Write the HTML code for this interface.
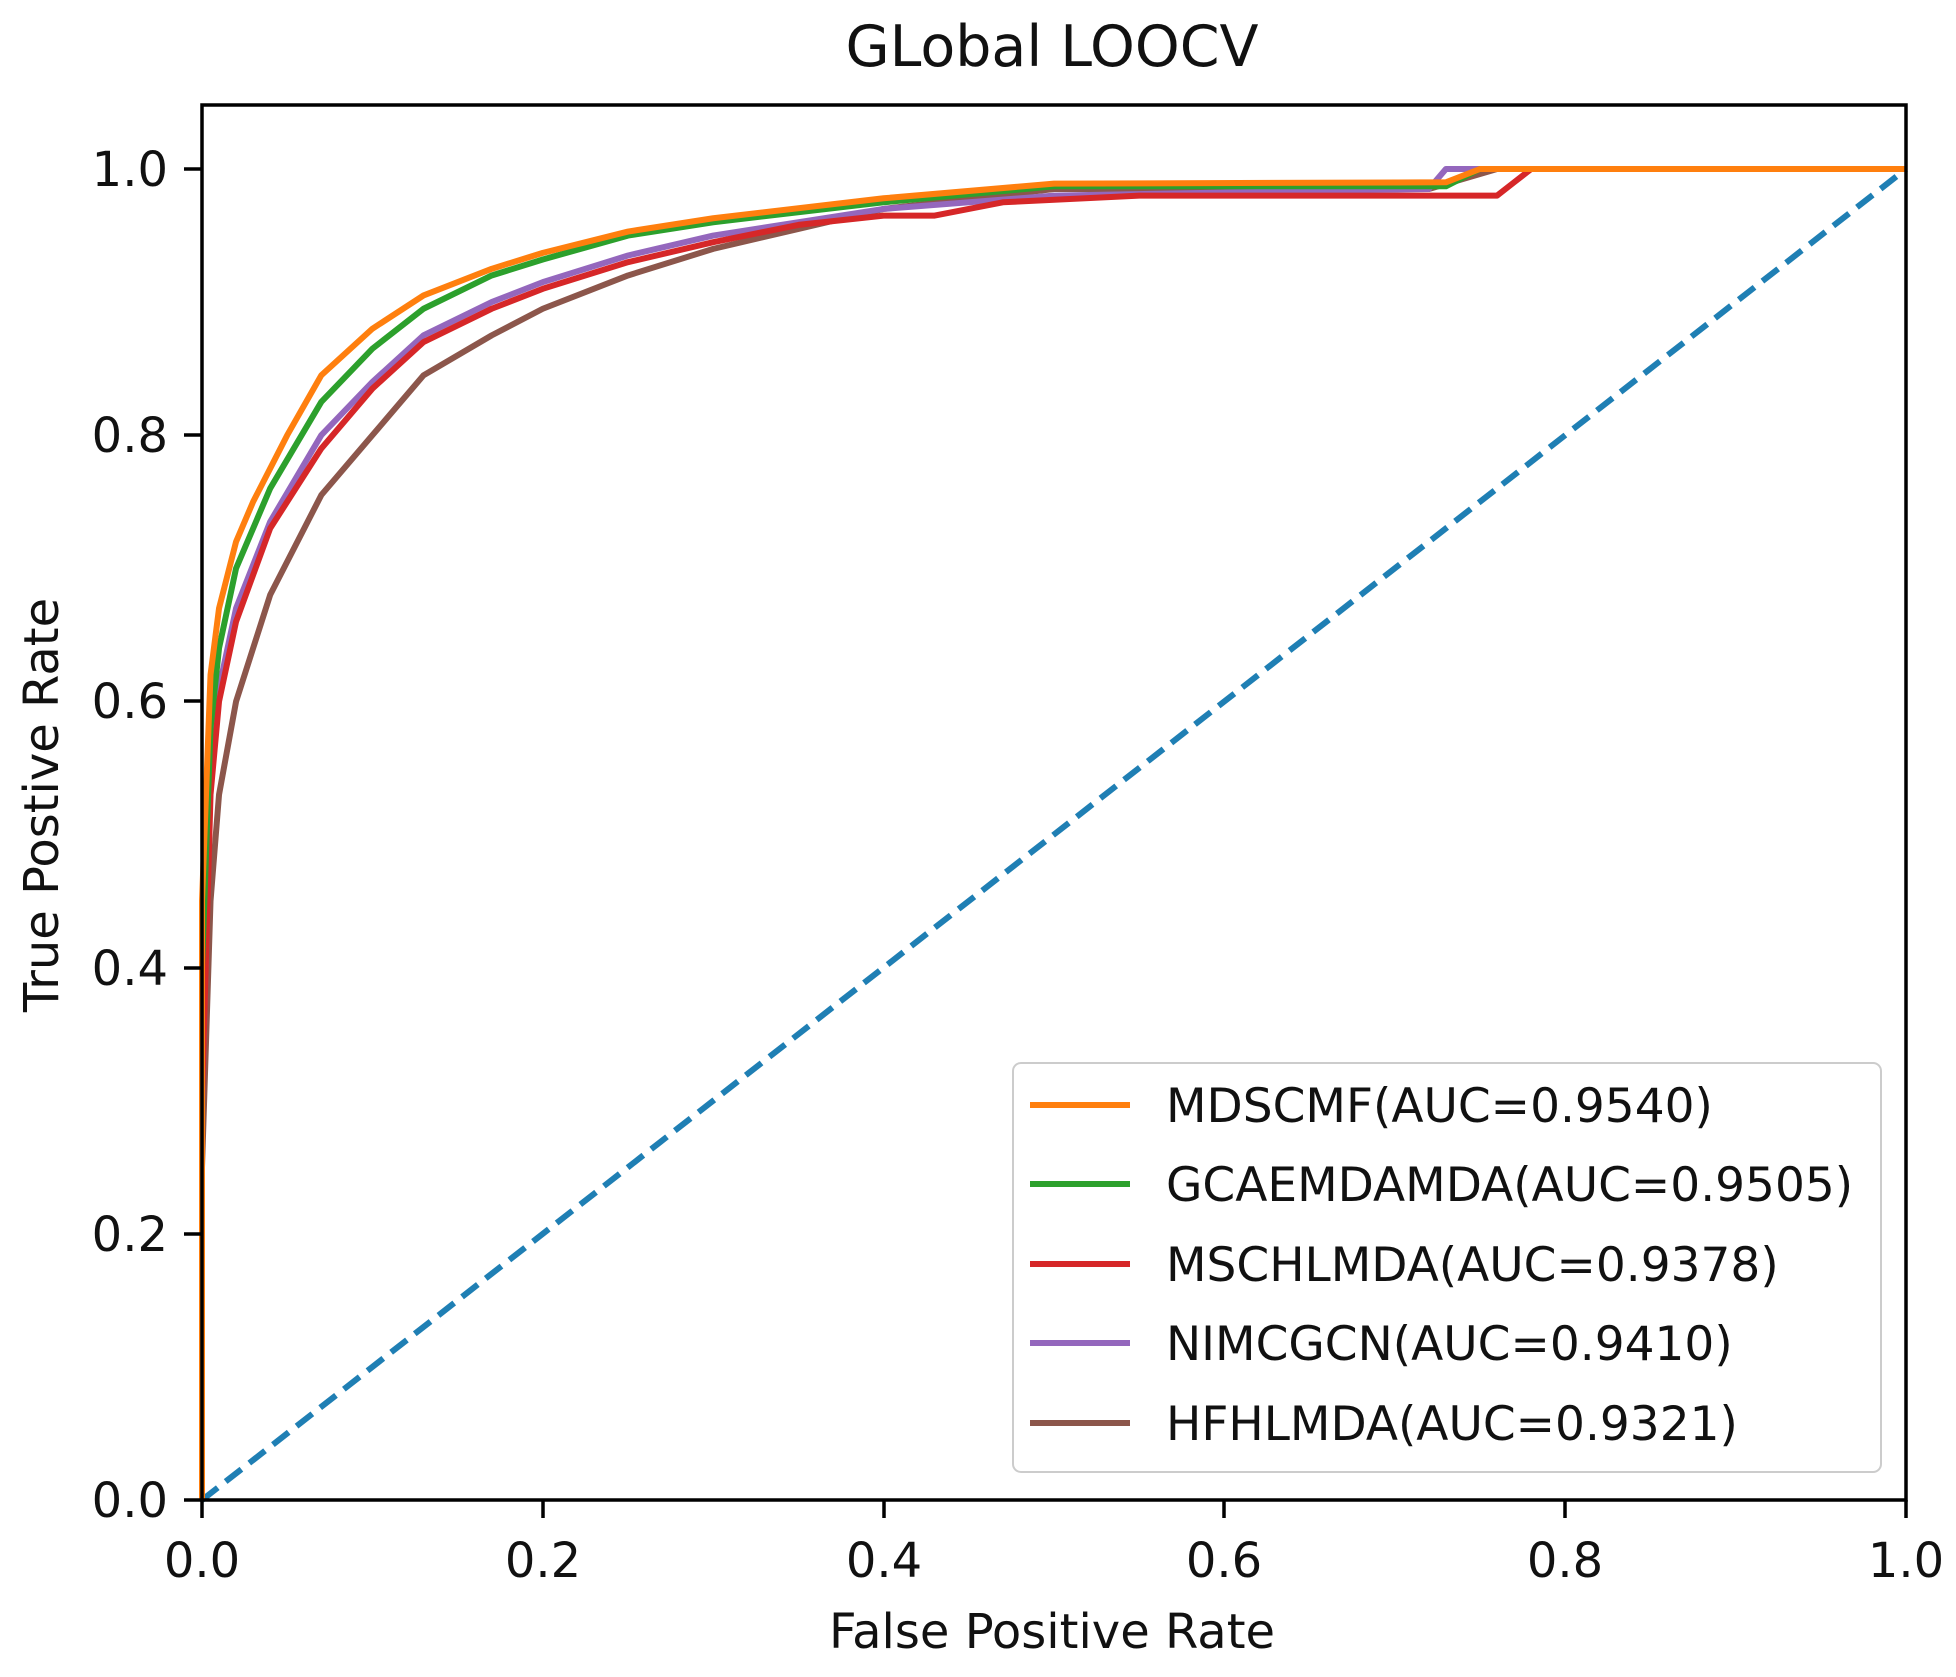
<!DOCTYPE html>
<html><head><meta charset="utf-8"><style>
body{margin:0;background:#fff}
text{font-family:"DejaVu Sans","Liberation Sans",sans-serif;fill:#111}
</style></head><body>
<svg width="1956" height="1672" viewBox="0 0 1956 1672" xmlns="http://www.w3.org/2000/svg">
<rect width="1956" height="1672" fill="#fff"/>
<text x="1052" y="66" font-size="57" text-anchor="middle">GLobal LOOCV</text>
<g transform="translate(202,1500) scale(1704,-1331)" fill="none" stroke-width="6" stroke-linejoin="round">
<line x1="0" y1="0" x2="1" y2="1" stroke="#1f7fb4" stroke-dasharray="20,10" vector-effect="non-scaling-stroke"/>
<polyline vector-effect="non-scaling-stroke" stroke="#8c564b" points="0,0 0,0.25 0.005,0.45 0.01,0.53 0.02,0.6 0.04,0.68 0.07,0.755 0.1,0.8 0.13,0.845 0.17,0.875 0.2,0.895 0.25,0.92 0.3,0.94 0.35,0.955 0.4,0.97 0.5,0.985 0.72,0.985 0.76,1 1,1"/>
<polyline vector-effect="non-scaling-stroke" stroke="#9467bd" points="0,0 0,0.3 0.005,0.54 0.01,0.61 0.02,0.67 0.04,0.735 0.07,0.8 0.1,0.84 0.13,0.875 0.17,0.9 0.2,0.915 0.25,0.935 0.3,0.95 0.4,0.97 0.5,0.98 0.72,0.985 0.73,1 1,1"/>
<polyline vector-effect="non-scaling-stroke" stroke="#d62728" points="0,0 0,0.3 0.005,0.53 0.01,0.6 0.02,0.66 0.04,0.73 0.07,0.79 0.1,0.835 0.13,0.87 0.17,0.895 0.2,0.91 0.25,0.93 0.3,0.945 0.35,0.958 0.4,0.965 0.43,0.965 0.47,0.975 0.55,0.98 0.76,0.98 0.77,0.99 0.78,1 1,1"/>
<polyline vector-effect="non-scaling-stroke" stroke="#2ca02c" points="0,0 0,0.4 0.005,0.58 0.01,0.64 0.02,0.7 0.04,0.76 0.07,0.825 0.1,0.865 0.13,0.895 0.17,0.92 0.2,0.932 0.25,0.95 0.3,0.96 0.4,0.975 0.5,0.987 0.73,0.987 0.75,1 1,1"/>
<polyline vector-effect="non-scaling-stroke" stroke="#ff7f0e" points="0,0 0,0.45 0.005,0.62 0.01,0.67 0.02,0.72 0.03,0.75 0.04,0.775 0.05,0.8 0.07,0.845 0.1,0.88 0.13,0.905 0.17,0.925 0.2,0.937 0.25,0.953 0.3,0.963 0.4,0.978 0.5,0.989 0.73,0.99 0.75,1 1,1"/>
</g>
<rect x="202" y="105" width="1704" height="1395" fill="none" stroke="#000" stroke-width="3.5"/>
<g stroke="#000" stroke-width="3.5">
<line x1="202" y1="1500" x2="202" y2="1518"/><line x1="543" y1="1500" x2="543" y2="1518"/><line x1="884" y1="1500" x2="884" y2="1518"/><line x1="1224" y1="1500" x2="1224" y2="1518"/><line x1="1565" y1="1500" x2="1565" y2="1518"/><line x1="1906" y1="1500" x2="1906" y2="1518"/>
<line x1="184" y1="1500" x2="202" y2="1500"/><line x1="184" y1="1234" x2="202" y2="1234"/><line x1="184" y1="968" x2="202" y2="968"/><line x1="184" y1="701" x2="202" y2="701"/><line x1="184" y1="435" x2="202" y2="435"/><line x1="184" y1="169" x2="202" y2="169"/>
</g>
<g font-size="48" text-anchor="middle">
<text x="202" y="1577">0.0</text><text x="543" y="1577">0.2</text><text x="884" y="1577">0.4</text><text x="1224" y="1577">0.6</text><text x="1565" y="1577">0.8</text><text x="1906" y="1577">1.0</text>
</g>
<g font-size="48" text-anchor="end">
<text x="168" y="1517">0.0</text><text x="168" y="1251">0.2</text><text x="168" y="985">0.4</text><text x="168" y="718">0.6</text><text x="168" y="452">0.8</text><text x="168" y="186">1.0</text>
</g>
<text x="1052" y="1648" font-size="48" text-anchor="middle">False Positive Rate</text>
<text transform="translate(58,805) rotate(-90)" font-size="48" text-anchor="middle">True Postive Rate</text>
<rect x="1013" y="1063" width="868" height="409" rx="8" fill="#fff" fill-opacity="0.85" stroke="#ccc" stroke-width="2"/>
<g stroke-width="6">
<line x1="1030" y1="1105" x2="1130" y2="1105" stroke="#ff7f0e"/>
<line x1="1030" y1="1184" x2="1130" y2="1184" stroke="#2ca02c"/>
<line x1="1030" y1="1264" x2="1130" y2="1264" stroke="#d62728"/>
<line x1="1030" y1="1343" x2="1130" y2="1343" stroke="#9467bd"/>
<line x1="1030" y1="1423" x2="1130" y2="1423" stroke="#8c564b"/>
</g>
<g font-size="47">
<text x="1166" y="1122">MDSCMF(AUC=0.9540)</text>
<text x="1166" y="1201">GCAEMDAMDA(AUC=0.9505)</text>
<text x="1166" y="1281">MSCHLMDA(AUC=0.9378)</text>
<text x="1166" y="1360">NIMCGCN(AUC=0.9410)</text>
<text x="1166" y="1440">HFHLMDA(AUC=0.9321)</text>
</g>
</svg>
</body></html>
